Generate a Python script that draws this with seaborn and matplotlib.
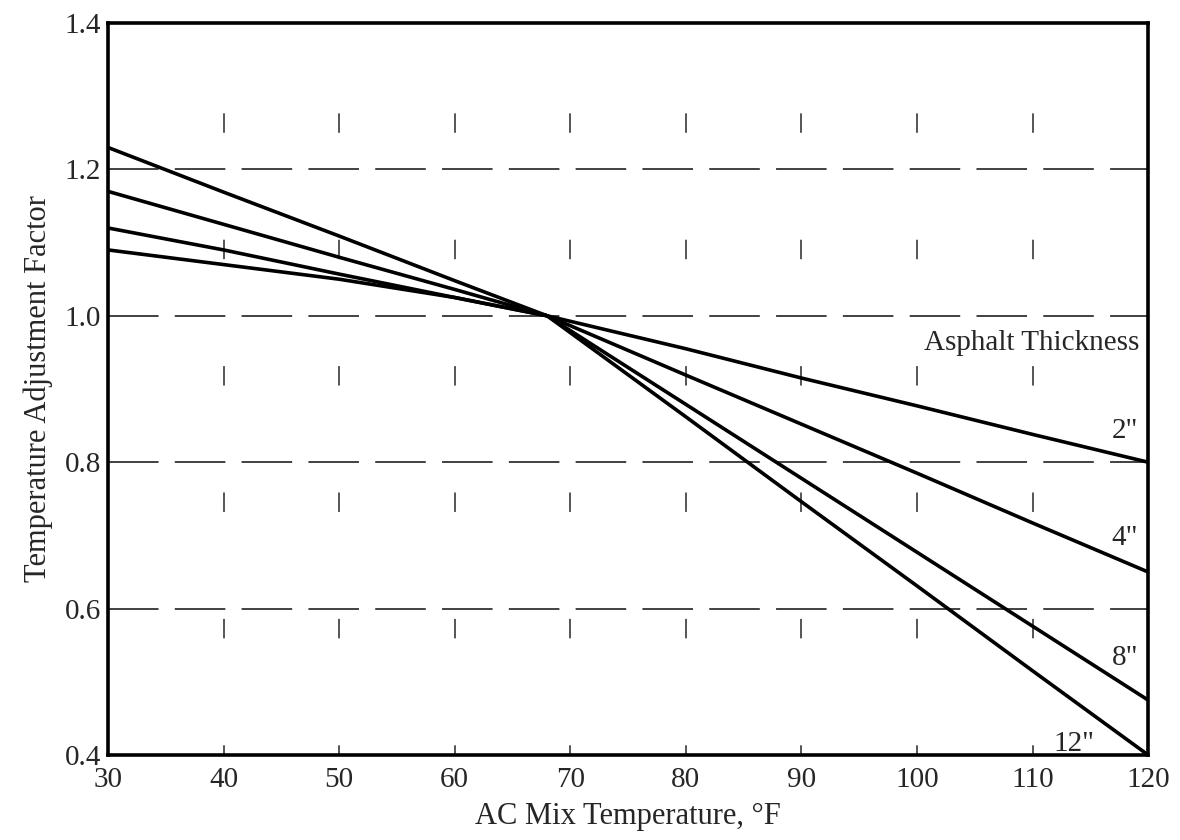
import matplotlib
matplotlib.use("Agg")
import matplotlib.pyplot as plt
import seaborn as sns
import pandas as pd

# AC mix temperature (°F) and temperature adjustment factor per asphalt thickness
temps = [30, 40, 50, 60, 68, 80, 90, 100, 110, 120]
factor_2in = [1.09, 1.07, 1.05, 1.025, 1.00, 0.955, 0.915, 0.877, 0.838, 0.80]
factor_4in = [1.12, 1.09, 1.057, 1.025, 1.00, 0.919, 0.852, 0.785, 0.717, 0.65]
factor_8in = [1.17, 1.125, 1.08, 1.036, 1.00, 0.879, 0.778, 0.677, 0.576, 0.475]
factor_12in = [1.23, 1.169, 1.109, 1.048, 1.00, 0.862, 0.746, 0.631, 0.515, 0.40]
thickness_labels = ['2"', '4"', '8"', '12"']
label_pos = [(118.0, 0.842), (118.0, 0.697), (118.0, 0.533), (113.6, 0.415)]

x_ticks = [30, 40, 50, 60, 70, 80, 90, 100, 110, 120]
y_ticks = [0.4, 0.6, 0.8, 1.0, 1.2, 1.4]

df = pd.DataFrame({
    "temp": temps * 4,
    "factor": factor_2in + factor_4in + factor_8in + factor_12in,
    "thickness": sum([[t] * len(temps) for t in thickness_labels], []),
})

sns.set_theme(style="white")
plt.rcParams["font.family"] = ["Liberation Serif", "DejaVu Serif"]

fig = plt.figure(figsize=(11.8, 8.4), dpi=100)
ax = fig.add_axes([0.0915, 0.1012, 0.8815, 0.8714])

# broken-looking grid lines
for y in [0.6, 0.8, 1.0, 1.2]:
    ax.axhline(y, color="#333333", lw=1.3, ls=(0, (28, 9)), zorder=0.5)
for x in x_ticks[1:-1]:
    ax.axvline(x, color="#555555", lw=1.4, ls=(5, (10, 55)), zorder=0.5)

sns.lineplot(data=df, x="temp", y="factor", hue="thickness",
             palette=["black"] * 4, linewidth=2.6, legend=False, ax=ax,
             zorder=3)

ax.set_xlim(30, 120)
ax.set_ylim(0.4, 1.4)
ax.set_xticks(x_ticks)
ax.set_yticks(y_ticks)
ax.set_xticklabels([str(v) for v in x_ticks], fontsize=21)
ax.set_yticklabels([f"{v:.1f}" for v in y_ticks], fontsize=21)
ax.tick_params(axis="x", length=0, pad=9)
ax.tick_params(axis="y", length=0, pad=5)
ax.set_xlabel("AC Mix Temperature, °F", fontsize=22, labelpad=6)
ax.set_ylabel("Temperature Adjustment Factor", fontsize=22, labelpad=8)

for s in ax.spines.values():
    s.set_color("black")
    s.set_linewidth(2.6)

ax.text(119.2, 0.963, "Asphalt Thickness", fontsize=21, ha="right", va="center")
for lab, (lx, ly) in zip(thickness_labels, label_pos):
    ax.text(lx, ly, lab, fontsize=21, ha="center", va="center")

fig.savefig("out.png", dpi=100)
